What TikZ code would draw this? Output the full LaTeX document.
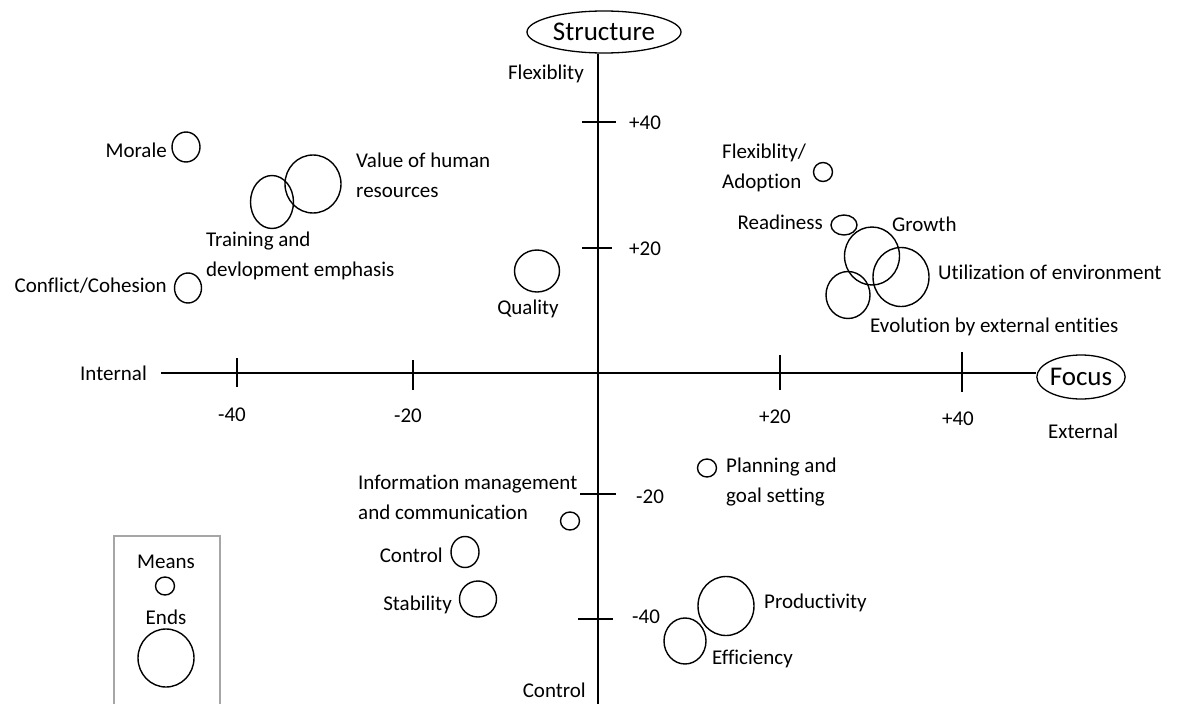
\documentclass[tikz,border=0pt]{standalone}
\usepackage{fontspec}
\setmainfont{Carlito}[Ligatures=NoCommon]
\usetikzlibrary{shapes.geometric}
\begin{document}
\begin{tikzpicture}[x=1pt,y=-1pt,
  lbl/.style={font=\fontsize{21}{29.5}\selectfont, inner sep=0pt, align=left},
  big/.style={draw, ellipse, font=\fontsize{27}{30}\selectfont, line width=1.3pt, inner sep=0pt},
  bub/.style 2 args={draw, ellipse, line width=1.4pt, inner sep=0pt, minimum width=#1, minimum height=#2},
  axis/.style={line width=1.3pt},
  tick/.style={line width=1.3pt}]
\useasboundingbox (0,0) rectangle (1178,704);
% axis end nodes
\node[big, minimum width=154pt, minimum height=42pt] (S) at (604,32) {Structure};
\node[big, minimum width=88pt, minimum height=44pt] (F) at (1081,377) {Focus};
\coordinate (vbot) at (598,704);
\coordinate (hleft) at (161,373);
\draw[axis] (vbot) -- (vbot |- S.south);
\draw[axis] (hleft) -- (F.west |- hleft);
% ticks
\draw[tick] (237,358) -- (237,387);
\draw[tick] (413,360) -- (413,390);
\draw[tick] (780,355) -- (780,390);
\draw[tick] (962,352) -- (962,392);
\draw[tick] (582,122) -- (616,122);
\draw[tick] (582,248) -- (612,248);
\draw[tick] (580,494) -- (616,494);
\draw[tick] (578,619) -- (613,619);
% tick labels
\node[lbl, anchor=base] (hm40) at (232,421) {-40};
\node[lbl, anchor=base] (hm20) at (408,422) {-20};
\node[lbl, anchor=base] (hp20) at (775,423) {+20};
\node[lbl, anchor=base] (hp40) at (958,425) {+40};
\node[lbl, anchor=base west] (vp40) at (629,129) {+40};
\node[lbl, anchor=base west] (vp20) at (629,255) {+20};
\node[lbl, anchor=base west] (vm20) at (636,503) {-20};
\node[lbl, anchor=base west] (vm40) at (632,623) {-40};
% axis labels
\node[lbl, anchor=base east] (flexl) at (584,79) {Flexiblity};
\node[lbl, anchor=base west] (internal) at (80,380) {Internal};
\node[lbl, anchor=base west] (external) at (1048,438) {External};
\node[lbl, anchor=base east] (ctrlbot) at (586,697) {Control};
% upper left
\node[bub={28pt}{30pt}] (morale) at (186,147) {};
\node[lbl, anchor=base east] (moralel) at (167,157) {Morale};
\node[bub={56pt}{58pt}] (value) at (313,184) {};
\node[lbl, anchor=base west] (valuel) at (356,197) {Value of human\\resources};
\node[bub={43pt}{53pt}] (training) at (272,202) {};
\node[lbl, anchor=base west] (trainingl) at (206,276) {Training and\\devlopment emphasis};
\node[bub={27pt}{30pt}] (conflict) at (188,288) {};
\node[lbl, anchor=base east] (conflictl) at (167,292) {Conflict/Cohesion};
\node[bub={45pt}{42pt}] (quality) at (537,271) {};
\node[lbl, anchor=base] (qualityl) at (528,314) {Quality};
% upper right
\node[bub={19pt}{19pt}] (flexad) at (823,172) {};
\node[lbl, anchor=base west] (flexadl) at (722,188) {Flexiblity/\\Adoption};
\node[bub={26pt}{20pt}] (ready) at (844,225) {};
\node[lbl, anchor=base east] (readyl) at (823,229) {Readiness};
\node[bub={55pt}{58pt}] (growth) at (872,256) {};
\node[lbl, anchor=base west] (growthl) at (892,231) {Growth};
\node[bub={56pt}{59pt}] (util) at (901,277) {};
\node[lbl, anchor=base west] (utill) at (938,279) {Utilization of environment};
\node[bub={44pt}{47pt}] (evol) at (848,295) {};
\node[lbl, anchor=base west] (evoll) at (870,332) {Evolution by external entities};
% lower
\node[bub={19pt}{18pt}] (plan) at (707,468) {};
\node[lbl, anchor=base west] (planl) at (726,502) {Planning and\\goal setting};
\node[bub={19pt}{18pt}] (info) at (570,521) {};
\node[lbl, anchor=base west] (infol) at (358,519) {Information management\\and communication};
\node[bub={28pt}{31pt}] (control) at (465,552) {};
\node[lbl, anchor=base east] (controll) at (443,562) {Control};
\node[bub={37pt}{36pt}] (stab) at (478,599) {};
\node[lbl, anchor=base east] (stabl) at (452,610) {Stability};
\node[bub={56pt}{59pt}] (prod) at (726,606) {};
\node[lbl, anchor=base west] (prodl) at (764,608) {Productivity};
\node[bub={42pt}{46pt}] (eff) at (685,641) {};
\node[lbl, anchor=base west] (effl) at (712,664) {Efficiency};
% legend
\draw[line width=1.2pt, color=black!35] (114,704) -- (114,536) -- (220,536) -- (220,704);
\node[lbl, anchor=base] (means) at (166,568) {Means};
\node[bub={19pt}{18pt}] (meansc) at (165,586) {};
\node[lbl, anchor=base] (ends) at (166,624) {Ends};
\node[bub={56pt}{58pt}] (endsc) at (166,658) {};
\end{tikzpicture}
\end{document}
